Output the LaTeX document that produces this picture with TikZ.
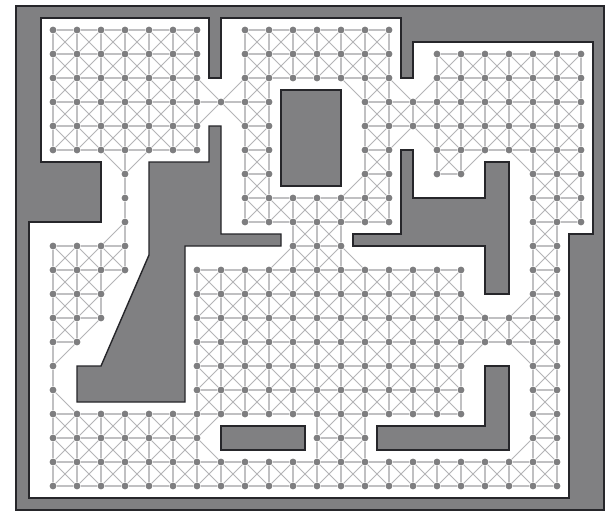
\documentclass[tikz,border=0pt]{standalone}
\usepackage{xcolor}
\usepackage{tikz}
\definecolor{wallgray}{HTML}{808082}
\definecolor{wallline}{HTML}{26262A}
\definecolor{edgegray}{HTML}{C0C0C2}
\definecolor{diaggray}{HTML}{B4B4B6}
\definecolor{ptgray}{HTML}{7E7E80}

\begin{document}
\begin{tikzpicture}[
  x=1pt, y=-1pt,
  wall/.style={draw=wallline, fill=wallgray, line width=1.4pt, line join=miter},
  free/.style={draw=wallline, fill=white, line width=1.4pt, line join=miter},
  pt/.style={circle, fill=ptgray, inner sep=0pt, minimum size=6.8pt},
  edge/.style={draw=edgegray, line width=1.3pt},
  diag/.style={draw=diaggray, line width=1pt},
]
\useasboundingbox (0,0) rectangle (605,511);

%% ---- frame and free space ----
\draw[wall, line width=2pt] (16,6) rectangle (604,510);
\draw[free] (41,18) -- (209,18) -- (209,78) -- (221,78) -- (221,18) -- (401,18)
  -- (401,78) -- (413,78) -- (413,42) -- (593,42) -- (593,234) -- (569,234)
  -- (569,498) -- (29,498) -- (29,222) -- (101,222) -- (101,162) -- (41,162) -- cycle;

%% ---- obstacles ----
\draw[wall] (149,162) -- (209,162) -- (209,126) -- (221,126) -- (221,234) -- (281,234)
  -- (281,246) -- (185,246) -- (185,402) -- (77,402) -- (77,366) -- (101,366)
  -- (149,255) -- cycle;
\draw[wall] (281,90) rectangle (341,186);
\draw[wall] (401,150) -- (413,150) -- (413,198) -- (485,198) -- (485,162) -- (509,162)
  -- (509,294) -- (485,294) -- (485,246) -- (353,246) -- (353,234) -- (401,234) -- cycle;
\draw[wall] (221,426) rectangle (305,450);
\draw[wall] (377,426) -- (485,426) -- (485,366) -- (509,366) -- (509,450) -- (377,450) -- cycle;

%% ---- roadmap points, row by row, as runs of columns ----
\foreach \rj/\runs in {
  0/{0/6,8/14},
  1/{0/6,8/14,16/22},
  2/{0/6,8/14,16/22},
  3/{0/9,13/22},
  4/{0/6,8/9,13/22},
  5/{0/6,8/9,13/14,16/22},
  6/{3/3,8/9,13/14,16/17,20/22},
  7/{3/3,8/14,20/22},
  8/{3/3,8/14,20/22},
  9/{0/3,10/12,20/21},
  10/{0/3,6/17,20/21},
  11/{0/2,6/17,20/21},
  12/{0/2,6/21},
  13/{0/1,6/21},
  14/{0/0,6/17,20/21},
  15/{0/0,6/17,20/21},
  16/{0/17,20/21},
  17/{0/6,11/13,20/21},
  18/{0/21},
  19/{0/21}}{
  \foreach \ca/\cb in \runs {
    \foreach \ci in {\ca,...,\cb} {
      \node[pt] (n-\ci-\rj) at (53+24*\ci,30+24*\rj) {};
    }
  }
}

%% diagonals that would graze an obstacle corner
\foreach \pa/\pb in {10-2/9-3, 9-6/10-7, 9-8/10-9, 13-8/12-9, 22-8/21-9,
  6-15/5-16, 10-16/11-17, 14-16/13-17, 13-17/14-18, 11-17/10-18}{
  \expandafter\gdef\csname noedge \pa/\pb\endcsname{}
}

%% ---- edges to the eight neighbours ----
\foreach \rj in {0,...,19}{
  \foreach \ci in {0,...,22}{
    \foreach \dx/\dy/\look in {1/0/edge, 0/1/edge, 1/1/diag, -1/1/diag}{
      \pgfmathtruncatemacro{\cn}{\ci+\dx}
      \pgfmathtruncatemacro{\rn}{\rj+\dy}
      \ifcsname pgf@sh@ns@n-\ci-\rj\endcsname
        \ifcsname pgf@sh@ns@n-\cn-\rn\endcsname
          \ifcsname noedge \ci-\rj/\cn-\rn\endcsname\else
            \draw[\look] (n-\ci-\rj) -- (n-\cn-\rn);
          \fi
        \fi
      \fi
    }
  }
}

\end{tikzpicture}
\end{document}
